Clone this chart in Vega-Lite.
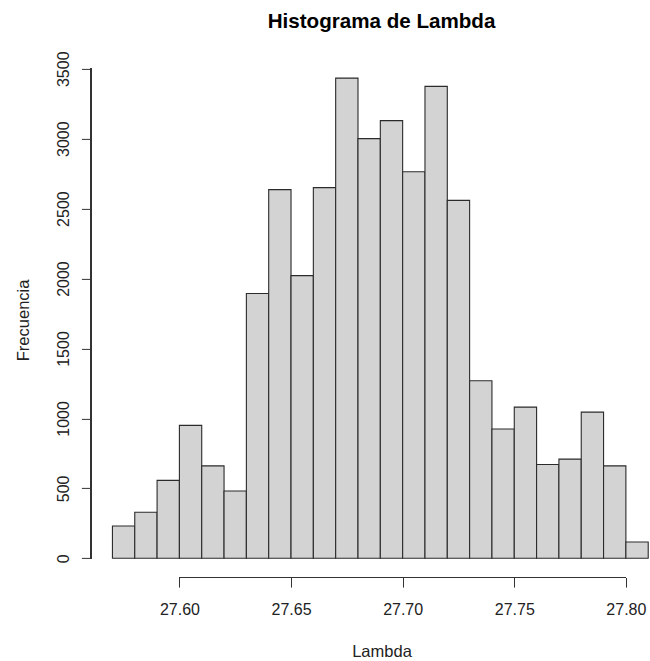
{
  "$schema": "https://vega.github.io/schema/vega-lite/v6.json",
  "width": 559,
  "height": 518.6,
  "autosize": {"type": "none"},
  "padding": {"left": 91, "top": 58.9, "right": 0, "bottom": 83.5},
  "background": "white",
  "title": {
    "text": "Histograma de Lambda",
    "font": "Liberation Sans",
    "fontSize": 20.6,
    "fontWeight": "bold",
    "color": "#000000",
    "anchor": "middle",
    "frame": "group",
    "dx": 11,
    "baseline": "alphabetic",
    "offset": 2
  },
  "config": {
    "view": {"stroke": null},
    "axis": {"grid": false, "domain": false, "labelFont": "Liberation Sans", "titleFont": "Liberation Sans", "labelFontSize": 16, "titleFontSize": 16.5, "titleFontWeight": "normal", "labelColor": "#222222", "titleColor": "#222222", "tickColor": "#333333", "tickSize": 9.6, "tickWidth": 1}
  },
  "data": {
    "values": [
      {"bin_start": 27.57, "bin_end": 27.58, "count": 231},
      {"bin_start": 27.58, "bin_end": 27.59, "count": 329},
      {"bin_start": 27.59, "bin_end": 27.60, "count": 557},
      {"bin_start": 27.60, "bin_end": 27.61, "count": 950},
      {"bin_start": 27.61, "bin_end": 27.62, "count": 661},
      {"bin_start": 27.62, "bin_end": 27.63, "count": 481},
      {"bin_start": 27.63, "bin_end": 27.64, "count": 1893},
      {"bin_start": 27.64, "bin_end": 27.65, "count": 2636},
      {"bin_start": 27.65, "bin_end": 27.66, "count": 2021},
      {"bin_start": 27.66, "bin_end": 27.67, "count": 2650},
      {"bin_start": 27.67, "bin_end": 27.68, "count": 3433},
      {"bin_start": 27.68, "bin_end": 27.69, "count": 3000},
      {"bin_start": 27.69, "bin_end": 27.70, "count": 3129},
      {"bin_start": 27.70, "bin_end": 27.71, "count": 2764},
      {"bin_start": 27.71, "bin_end": 27.72, "count": 3374},
      {"bin_start": 27.72, "bin_end": 27.73, "count": 2559},
      {"bin_start": 27.73, "bin_end": 27.74, "count": 1269},
      {"bin_start": 27.74, "bin_end": 27.75, "count": 924},
      {"bin_start": 27.75, "bin_end": 27.76, "count": 1081},
      {"bin_start": 27.76, "bin_end": 27.77, "count": 671},
      {"bin_start": 27.77, "bin_end": 27.78, "count": 709},
      {"bin_start": 27.78, "bin_end": 27.79, "count": 1045},
      {"bin_start": 27.79, "bin_end": 27.80, "count": 661},
      {"bin_start": 27.80, "bin_end": 27.81, "count": 116}
    ]
  },
  "layer": [
    {
      "mark": {"type": "bar", "fill": "#D3D3D3", "stroke": "#2b2b2b", "strokeWidth": 1.1, "binSpacing": 0},
      "encoding": {
        "x": {
          "field": "bin_start",
          "type": "quantitative",
          "scale": {"domain": [27.5604, 27.8108], "nice": false, "zero": false},
          "axis": {
            "values": [27.6, 27.65, 27.7, 27.75, 27.8],
            "format": ".2f",
            "labelBaseline": "alphabetic",
            "labelPadding": 27,
            "labelFlush": false,
            "title": "Lambda",
            "titleBaseline": "alphabetic",
            "titleX": 290.5,
            "titleY": 78.5,
            "titleAnchor": "start",
            "titleAlign": "center"
          }
        },
        "x2": {"field": "bin_end"},
        "y": {
          "field": "count",
          "type": "quantitative",
          "scale": {"domain": [-137.3, 3570.3], "nice": false, "zero": false},
          "axis": {
            "values": [0, 500, 1000, 1500, 2000, 2500, 3000, 3500],
            "format": "d",
            "labelAngle": -90,
            "labelAlign": "center",
            "labelBaseline": "alphabetic",
            "labelPadding": 13,
            "labelFlush": false,
            "title": "Frecuencia",
            "titleAngle": -90,
            "titleBaseline": "alphabetic",
            "titleAlign": "center",
            "titleAnchor": "start",
            "titleX": -63,
            "titleY": 261
          }
        },
        "y2": {"datum": 0}
      }
    },
    {
      "mark": {"type": "rule", "color": "#333333", "strokeWidth": 1},
      "encoding": {
        "x": {"datum": 27.6},
        "x2": {"datum": 27.8},
        "y": {"datum": -137.3}
      }
    },
    {
      "mark": {"type": "rule", "color": "#333333", "strokeWidth": 1},
      "encoding": {
        "x": {"datum": 27.5604},
        "y": {"datum": 0},
        "y2": {"datum": 3500}
      }
    }
  ]
}
